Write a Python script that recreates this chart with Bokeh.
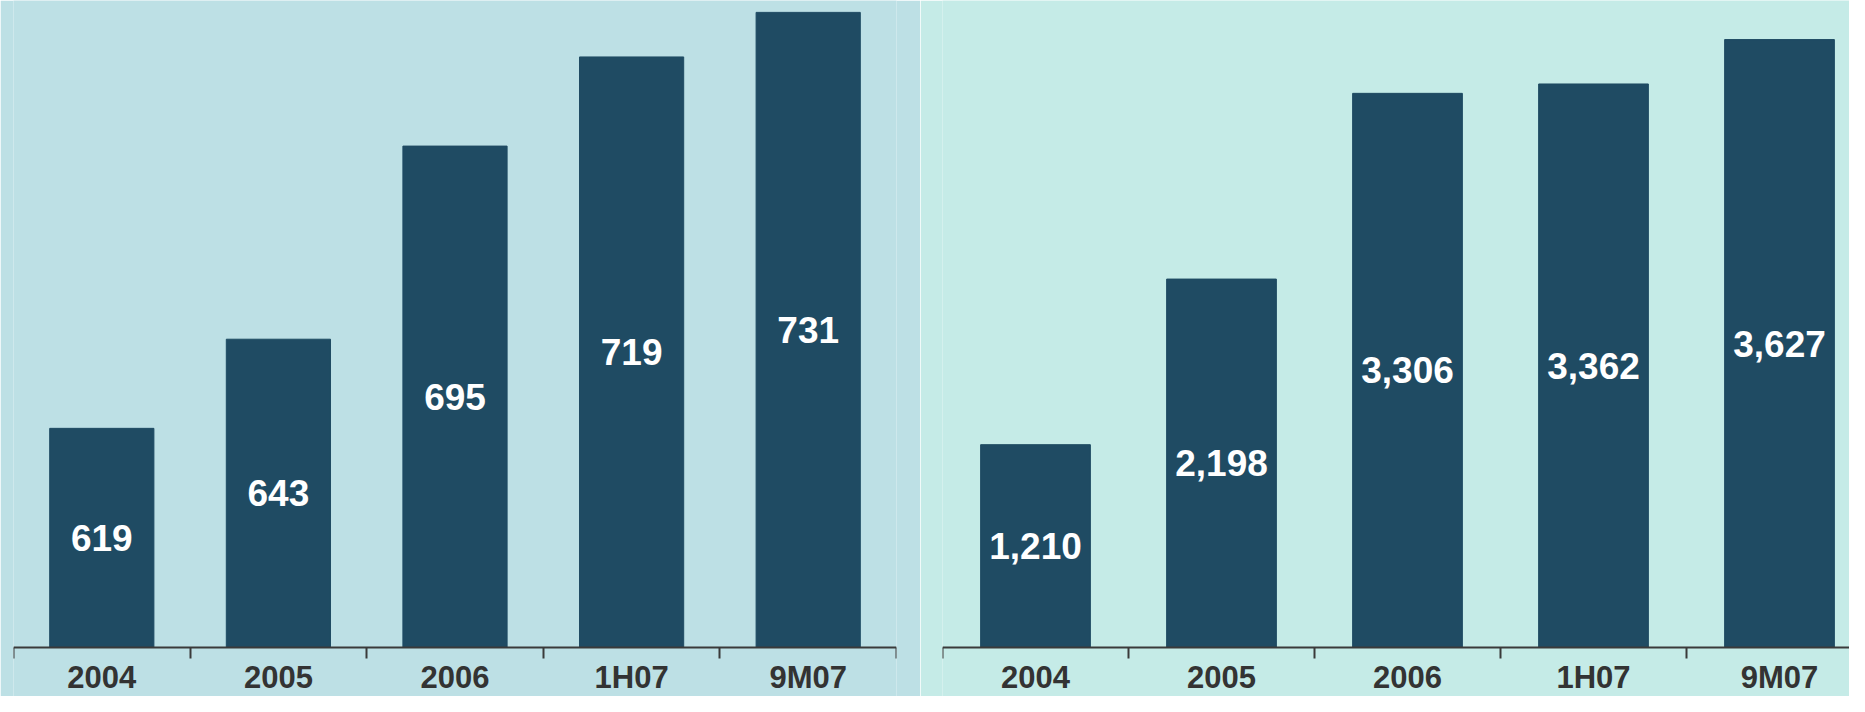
from bokeh.plotting import figure
from bokeh.layouts import row
from bokeh.models import Range1d, FixedTicker, ColumnDataSource
from bokeh.core.properties import value
from bokeh.embed import file_html
from bokeh.resources import INLINE

categories = ["2004", "2005", "2006", "1H07", "9M07"]
left_values = [619, 643, 695, 719, 731]
right_values = [1210, 2198, 3306, 3362, 3627]

BAR = "#1f4b63"
AXIS = "#3a3a3a"
FONT = "Liberation Sans"


def make_chart(vals, base, y_start, y_end, x_end, width, bl, br, bg):
    n = len(categories)
    xs = [i + 0.5 for i in range(n)]
    p = figure(width=width, height=696, output_backend="svg", toolbar_location=None,
               x_range=Range1d(0, x_end), y_range=Range1d(y_start, y_end),
               min_border_left=bl, min_border_right=br, min_border_top=0,
               min_border_bottom=0)
    p.background_fill_color = bg
    p.border_fill_color = bg
    p.outline_line_color = None
    p.grid.visible = False
    p.yaxis.visible = False
    src = ColumnDataSource(dict(x=xs, top=vals, mid=[(base + v) / 2 for v in vals],
                                lab=[f"{v:,}" for v in vals]))
    p.vbar(x="x", top="top", bottom=base, width=0.59, color=BAR, source=src)
    p.text(x="x", y="mid", text="lab", source=src, text_color="white",
           text_font=value(FONT), text_font_style="bold", text_font_size="37px",
           text_align="center", text_baseline="middle")
    ax = p.xaxis[0]
    ax.fixed_location = base
    ax.ticker = FixedTicker(ticks=xs, minor_ticks=list(range(n + 1)))
    ax.major_label_overrides = {x: c for x, c in zip(xs, categories)}
    ax.major_tick_out = 0
    ax.major_tick_in = 0
    ax.minor_tick_out = 11
    ax.minor_tick_in = 0
    ax.minor_tick_line_color = AXIS
    ax.minor_tick_line_width = 2
    ax.axis_line_color = AXIS
    ax.axis_line_width = 2
    ax.major_label_standoff = 2
    ax.major_label_text_font = FONT
    ax.major_label_text_font_style = "bold"
    ax.major_label_text_font_size = "31px"
    ax.major_label_text_color = "#333333"
    return p


left = make_chart(left_values, 560, 546.8, 734.2, 5, 920, 13, 24, "#bde0e5")
right = make_chart(right_values, 0, -292.4, 3860, 907 / 186, 929, 22, 0, "#c5ebe7")

layout = row(left, right, spacing=0)
open("out.html", "w").write(file_html(layout, INLINE))
